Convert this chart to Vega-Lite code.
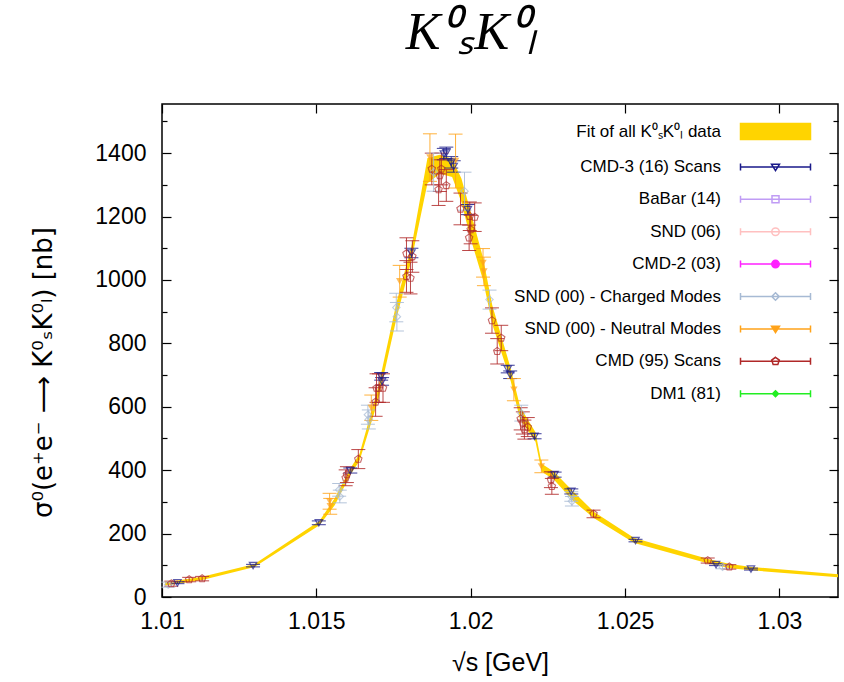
{
  "$schema": "https://vega.github.io/schema/vega-lite/v6.json",
  "width": 676,
  "height": 493,
  "autosize": {"type": "none"},
  "padding": {"left": 162, "top": 104, "right": 6, "bottom": 85},
  "background": "white",
  "config": {
    "view": {"stroke": "black", "strokeWidth": 1.5},
    "font": "Liberation Sans",
    "axis": {"grid": false, "domain": false, "labelFlush": false, "tickColor": "black", "tickWidth": 1.2, "labelColor": "black", "titleColor": "black", "labelFont": "Liberation Sans", "titleFont": "Liberation Sans", "labelFontSize": 23, "titleFontSize": 24, "titleFontWeight": "normal"},
    "legend": {"labelFont": "Liberation Sans", "labelFontSize": 17, "labelColor": "black", "labelLimit": 400}
  },
  "title": {"text": "K⁰ₛK⁰ₗ", "font": "Liberation Serif", "fontStyle": "italic", "fontWeight": "normal", "fontSize": 52, "color": "black", "anchor": "middle", "frame": "group", "dx": -29, "baseline": "alphabetic", "offset": 2},
  "datasets": {
    "fit": [
      {"x": 1.0101, "lo": 36, "hi": 48},
      {"x": 1.0105, "lo": 42, "hi": 52},
      {"x": 1.0113, "lo": 54, "hi": 64},
      {"x": 1.0130, "lo": 95, "hi": 104},
      {"x": 1.0151, "lo": 226, "hi": 240},
      {"x": 1.0156, "lo": 290, "hi": 312},
      {"x": 1.0161, "lo": 385, "hi": 405},
      {"x": 1.0164, "lo": 430, "hi": 452},
      {"x": 1.0170, "lo": 620, "hi": 660},
      {"x": 1.0176, "lo": 880, "hi": 930},
      {"x": 1.0181, "lo": 1070, "hi": 1115},
      {"x": 1.0186, "lo": 1305, "hi": 1385},
      {"x": 1.0190, "lo": 1335, "hi": 1395},
      {"x": 1.0194, "lo": 1325, "hi": 1382},
      {"x": 1.0197, "lo": 1245, "hi": 1320},
      {"x": 1.0200, "lo": 1130, "hi": 1215},
      {"x": 1.0204, "lo": 1000, "hi": 1070},
      {"x": 1.0207, "lo": 860, "hi": 920},
      {"x": 1.0213, "lo": 680, "hi": 720},
      {"x": 1.0216, "lo": 560, "hi": 600},
      {"x": 1.0221, "lo": 490, "hi": 520},
      {"x": 1.0223, "lo": 395, "hi": 420},
      {"x": 1.0227, "lo": 370, "hi": 395},
      {"x": 1.0233, "lo": 305, "hi": 335},
      {"x": 1.0240, "lo": 248, "hi": 268},
      {"x": 1.0253, "lo": 170, "hi": 186},
      {"x": 1.0277, "lo": 106, "hi": 120},
      {"x": 1.0284, "lo": 91, "hi": 104},
      {"x": 1.0291, "lo": 84, "hi": 95},
      {"x": 1.0319, "lo": 62, "hi": 72}
    ],
    "points": [
      {"dataset": "CMD-3 (16) Scans", "x": 1.0105, "y": 45, "err": 3},
      {"dataset": "CMD-3 (16) Scans", "x": 1.01295, "y": 99, "err": 4},
      {"dataset": "CMD-3 (16) Scans", "x": 1.01508, "y": 234, "err": 6},
      {"dataset": "CMD-3 (16) Scans", "x": 1.0161, "y": 399, "err": 8},
      {"dataset": "CMD-3 (16) Scans", "x": 1.0171, "y": 696, "err": 12},
      {"dataset": "CMD-3 (16) Scans", "x": 1.01713, "y": 680, "err": 12},
      {"dataset": "CMD-3 (16) Scans", "x": 1.01808, "y": 1085, "err": 15},
      {"dataset": "CMD-3 (16) Scans", "x": 1.01913, "y": 1397, "err": 18},
      {"dataset": "CMD-3 (16) Scans", "x": 1.01921, "y": 1401, "err": 18},
      {"dataset": "CMD-3 (16) Scans", "x": 1.01937, "y": 1371, "err": 18},
      {"dataset": "CMD-3 (16) Scans", "x": 1.01945, "y": 1358, "err": 18},
      {"dataset": "CMD-3 (16) Scans", "x": 1.01991, "y": 1222, "err": 16},
      {"dataset": "CMD-3 (16) Scans", "x": 1.0212, "y": 719, "err": 12},
      {"dataset": "CMD-3 (16) Scans", "x": 1.02128, "y": 701, "err": 12},
      {"dataset": "CMD-3 (16) Scans", "x": 1.02207, "y": 507, "err": 8},
      {"dataset": "CMD-3 (16) Scans", "x": 1.02272, "y": 386, "err": 8},
      {"dataset": "CMD-3 (16) Scans", "x": 1.02326, "y": 333, "err": 8},
      {"dataset": "CMD-3 (16) Scans", "x": 1.02534, "y": 178, "err": 4},
      {"dataset": "CMD-3 (16) Scans", "x": 1.02795, "y": 102, "err": 3},
      {"dataset": "CMD-3 (16) Scans", "x": 1.02908, "y": 88, "err": 3},
      {"dataset": "CMD (95) Scans", "x": 1.0103, "y": 42, "err": 8},
      {"dataset": "CMD (95) Scans", "x": 1.01088, "y": 55, "err": 7},
      {"dataset": "CMD (95) Scans", "x": 1.0113, "y": 58, "err": 7},
      {"dataset": "CMD (95) Scans", "x": 1.01595, "y": 376, "err": 25},
      {"dataset": "CMD (95) Scans", "x": 1.01599, "y": 386, "err": 25},
      {"dataset": "CMD (95) Scans", "x": 1.01636, "y": 435, "err": 30},
      {"dataset": "CMD (95) Scans", "x": 1.01692, "y": 615, "err": 45},
      {"dataset": "CMD (95) Scans", "x": 1.01695, "y": 659, "err": 45},
      {"dataset": "CMD (95) Scans", "x": 1.01703, "y": 659, "err": 45},
      {"dataset": "CMD (95) Scans", "x": 1.01716, "y": 659, "err": 45},
      {"dataset": "CMD (95) Scans", "x": 1.01792, "y": 1011, "err": 50},
      {"dataset": "CMD (95) Scans", "x": 1.01805, "y": 1006, "err": 50},
      {"dataset": "CMD (95) Scans", "x": 1.01792, "y": 1083, "err": 50},
      {"dataset": "CMD (95) Scans", "x": 1.01811, "y": 1074, "err": 50},
      {"dataset": "CMD (95) Scans", "x": 1.01874, "y": 1350, "err": 50},
      {"dataset": "CMD (95) Scans", "x": 1.01905, "y": 1350, "err": 50},
      {"dataset": "CMD (95) Scans", "x": 1.019, "y": 1329, "err": 50},
      {"dataset": "CMD (95) Scans", "x": 1.01896, "y": 1285, "err": 50},
      {"dataset": "CMD (95) Scans", "x": 1.01921, "y": 1298, "err": 50},
      {"dataset": "CMD (95) Scans", "x": 1.01967, "y": 1224, "err": 50},
      {"dataset": "CMD (95) Scans", "x": 1.01997, "y": 1201, "err": 45},
      {"dataset": "CMD (95) Scans", "x": 1.02013, "y": 1198, "err": 45},
      {"dataset": "CMD (95) Scans", "x": 1.02, "y": 1159, "err": 45},
      {"dataset": "CMD (95) Scans", "x": 1.01995, "y": 1133, "err": 40},
      {"dataset": "CMD (95) Scans", "x": 1.02069, "y": 872, "err": 40},
      {"dataset": "CMD (95) Scans", "x": 1.02099, "y": 817, "err": 40},
      {"dataset": "CMD (95) Scans", "x": 1.02086, "y": 775, "err": 40},
      {"dataset": "CMD (95) Scans", "x": 1.02162, "y": 562, "err": 35},
      {"dataset": "CMD (95) Scans", "x": 1.02169, "y": 549, "err": 35},
      {"dataset": "CMD (95) Scans", "x": 1.02185, "y": 536, "err": 30},
      {"dataset": "CMD (95) Scans", "x": 1.02174, "y": 528, "err": 30},
      {"dataset": "CMD (95) Scans", "x": 1.0226, "y": 370, "err": 25},
      {"dataset": "CMD (95) Scans", "x": 1.02263, "y": 349, "err": 25},
      {"dataset": "CMD (95) Scans", "x": 1.02398, "y": 262, "err": 12},
      {"dataset": "CMD (95) Scans", "x": 1.02768, "y": 115, "err": 8},
      {"dataset": "CMD (95) Scans", "x": 1.02838, "y": 95, "err": 7},
      {"dataset": "SND (00) - Charged Modes", "x": 1.0102, "y": 39, "err": 8},
      {"dataset": "SND (00) - Charged Modes", "x": 1.01574, "y": 338, "err": 20},
      {"dataset": "SND (00) - Charged Modes", "x": 1.01576, "y": 317, "err": 20},
      {"dataset": "SND (00) - Charged Modes", "x": 1.01667, "y": 575, "err": 30},
      {"dataset": "SND (00) - Charged Modes", "x": 1.0167, "y": 560, "err": 30},
      {"dataset": "SND (00) - Charged Modes", "x": 1.01759, "y": 913, "err": 45},
      {"dataset": "SND (00) - Charged Modes", "x": 1.01761, "y": 884, "err": 45},
      {"dataset": "SND (00) - Charged Modes", "x": 1.0188, "y": 1340, "err": 60},
      {"dataset": "SND (00) - Charged Modes", "x": 1.0198, "y": 1280, "err": 60},
      {"dataset": "SND (00) - Charged Modes", "x": 1.02061, "y": 938, "err": 30},
      {"dataset": "SND (00) - Charged Modes", "x": 1.02164, "y": 580, "err": 25},
      {"dataset": "SND (00) - Charged Modes", "x": 1.02326, "y": 317, "err": 15},
      {"dataset": "SND (00) - Charged Modes", "x": 1.02328, "y": 302, "err": 15},
      {"dataset": "SND (00) - Charged Modes", "x": 1.02816, "y": 95, "err": 6},
      {"dataset": "SND (00) - Neutral Modes", "x": 1.01543, "y": 302, "err": 25},
      {"dataset": "SND (00) - Neutral Modes", "x": 1.01545, "y": 286, "err": 25},
      {"dataset": "SND (00) - Neutral Modes", "x": 1.01678, "y": 597, "err": 40},
      {"dataset": "SND (00) - Neutral Modes", "x": 1.0177, "y": 996, "err": 50},
      {"dataset": "SND (00) - Neutral Modes", "x": 1.01868, "y": 1386, "err": 75},
      {"dataset": "SND (00) - Neutral Modes", "x": 1.01951, "y": 1375, "err": 85},
      {"dataset": "SND (00) - Neutral Modes", "x": 1.0204, "y": 1054, "err": 45},
      {"dataset": "SND (00) - Neutral Modes", "x": 1.02043, "y": 1027, "err": 45},
      {"dataset": "SND (00) - Neutral Modes", "x": 1.0214, "y": 654, "err": 35},
      {"dataset": "SND (00) - Neutral Modes", "x": 1.02229, "y": 412, "err": 20}
    ]
  },
  "resolve": {"axis": {"x": "independent", "y": "independent"}},
  "layer": [
    {
      "data": {"name": "fit"},
      "mark": {"type": "area", "color": "#ffd400", "opacity": 1},
      "encoding": {
        "x": {"field": "x", "type": "quantitative", "scale": {"domain": [1.01, 1.0319], "nice": false, "zero": false},
              "axis": {"orient": "bottom", "values": [1.01, 1.015, 1.02, 1.025, 1.03], "format": ".3~f", "tickSize": -9, "labelPadding": 22, "title": "√s [GeV]", "titleFontSize": 25, "titleY": 53, "titleBaseline": "top"}},
        "y": {"field": "lo", "type": "quantitative", "scale": {"domain": [0, 1555], "nice": false, "zero": false},
              "axis": {"orient": "left", "values": [0, 200, 400, 600, 800, 1000, 1200, 1400], "format": "d", "tickSize": -9, "labelPadding": 25, "title": "σ⁰(e⁺e⁻ ⟶ K⁰ₛK⁰ₗ) [nb]", "titleFont": "DejaVu Sans", "titleFontSize": 26, "titleX": -106, "titleY": 268, "titleAngle": -90, "titleBaseline": "bottom"}},
        "y2": {"field": "hi"}
      }
    },
    {
      "data": {"name": "points"},
      "mark": {"type": "errorbar", "ticks": {"size": 14}, "opacity": 0.85},
      "encoding": {
        "x": {"field": "x", "type": "quantitative", "axis": {"orient": "top", "values": [1.01, 1.015, 1.02, 1.025, 1.03], "labels": false, "tickSize": -9, "title": null}},
        "y": {"field": "y", "type": "quantitative", "axis": {"orient": "right", "values": [0, 200, 400, 600, 800, 1000, 1200, 1400], "labels": false, "tickSize": -9, "title": null}},
        "yError": {"field": "err"},
        "color": {"field": "dataset", "type": "nominal", "legend": null,
                  "scale": {"domain": ["CMD-3 (16) Scans", "BaBar (14)", "SND (06)", "CMD-2 (03)", "SND (00) - Charged Modes", "SND (00) - Neutral Modes", "CMD (95) Scans", "DM1 (81)"],
                            "range": ["#1a1a8a", "#c09cf5", "#ffc0c0", "#ff22ff", "#a7bad4", "#ffa31a", "#b02828", "#22ee22"]}}
      }
    },
    {
      "data": {"name": "points"},
      "transform": [{"filter": {"field": "dataset", "equal": "SND (00) - Charged Modes"}}],
      "mark": {"type": "point", "shape": "diamond", "filled": false, "size": 55, "strokeWidth": 1.1},
      "encoding": {
        "x": {"field": "x", "type": "quantitative", "axis": null},
        "y": {"field": "y", "type": "quantitative", "axis": {"orient": "left", "values": [100, 300, 500, 700, 900, 1100, 1300, 1500], "labels": false, "tickSize": -5, "title": null}},
        "color": {"field": "dataset", "type": "nominal", "legend": null}
      }
    },
    {
      "data": {"name": "points"},
      "transform": [{"filter": {"field": "dataset", "equal": "SND (00) - Neutral Modes"}}],
      "mark": {"type": "point", "shape": "triangle-down", "filled": true, "size": 55},
      "encoding": {
        "x": {"field": "x", "type": "quantitative", "axis": null},
        "y": {"field": "y", "type": "quantitative", "axis": {"orient": "right", "values": [100, 300, 500, 700, 900, 1100, 1300, 1500], "labels": false, "tickSize": -5, "title": null}},
        "color": {"field": "dataset", "type": "nominal", "legend": null}
      }
    },
    {
      "data": {"name": "points"},
      "transform": [{"filter": {"field": "dataset", "equal": "CMD (95) Scans"}}],
      "mark": {"type": "point", "shape": "M0,-1L0.95,-0.31L0.59,0.81L-0.59,0.81L-0.95,-0.31Z", "filled": false, "size": 60, "strokeWidth": 1.1},
      "encoding": {
        "x": {"field": "x", "type": "quantitative", "axis": null},
        "y": {"field": "y", "type": "quantitative", "axis": null},
        "color": {"field": "dataset", "type": "nominal", "legend": null}
      }
    },
    {
      "data": {"name": "points"},
      "transform": [{"filter": {"field": "dataset", "equal": "CMD-3 (16) Scans"}}],
      "mark": {"type": "point", "shape": "triangle-down", "filled": false, "size": 55, "strokeWidth": 1.2},
      "encoding": {
        "x": {"field": "x", "type": "quantitative", "axis": null},
        "y": {"field": "y", "type": "quantitative", "axis": null},
        "color": {"field": "dataset", "type": "nominal", "legend": null}
      }
    },
    {
      "data": {"name": "points"},
      "transform": [{"filter": "datum.y < 0"}],
      "mark": {"type": "point", "strokeWidth": 1.2, "opacity": 1},
      "encoding": {
        "x": {"field": "x", "type": "quantitative", "axis": null},
        "y": {"field": "y", "type": "quantitative", "axis": null},
        "stroke": {"field": "dataset", "type": "nominal",
                  "scale": {"domain": ["Fit of all K⁰ₛK⁰ₗ data", "CMD-3 (16) Scans", "BaBar (14)", "SND (06)", "CMD-2 (03)", "SND (00) - Charged Modes", "SND (00) - Neutral Modes", "CMD (95) Scans", "DM1 (81)"],
                            "range": ["#ffd400", "#1a1a8a", "#c09cf5", "#ffc0c0", "#ff22ff", "#a7bad4", "#ffa31a", "#b02828", "#22ee22"]},
                  "legend": {"title": null, "orient": "none", "legendX": 605, "legendY": 19, "rowPadding": 14.4, "labelAlign": "right", "labelOffset": -63, "symbolSize": 100}},
        "fill": {"field": "dataset", "type": "nominal",
                  "scale": {"domain": ["Fit of all K⁰ₛK⁰ₗ data", "CMD-3 (16) Scans", "BaBar (14)", "SND (06)", "CMD-2 (03)", "SND (00) - Charged Modes", "SND (00) - Neutral Modes", "CMD (95) Scans", "DM1 (81)"],
                            "range": ["#ffd400", "transparent", "transparent", "transparent", "#ff22ff", "transparent", "#ffa31a", "transparent", "#22ee22"]},
                  "legend": {"title": null}},
        "shape": {"field": "dataset", "type": "nominal",
                  "scale": {"domain": ["Fit of all K⁰ₛK⁰ₗ data", "CMD-3 (16) Scans", "BaBar (14)", "SND (06)", "CMD-2 (03)", "SND (00) - Charged Modes", "SND (00) - Neutral Modes", "CMD (95) Scans", "DM1 (81)"],
                            "range": ["M-7,-1.6H7V1.6H-7Z", "M-7,0H7M-7,-0.7V0.7M7,-0.7V0.7M-0.8,-0.55H0.8L0,0.75Z", "M-7,0H7M-7,-0.7V0.7M7,-0.7V0.7M-0.7,-0.7H0.7V0.7H-0.7Z", "M-7,0H7M-7,-0.7V0.7M7,-0.7V0.7M-0.75,0A0.75,0.75,0,1,0,0.75,0A0.75,0.75,0,1,0,-0.75,0Z", "M-7,0H7M-7,-0.7V0.7M7,-0.7V0.7M-0.75,0A0.75,0.75,0,1,0,0.75,0A0.75,0.75,0,1,0,-0.75,0Z", "M-7,0H7M-7,-0.7V0.7M7,-0.7V0.7M0,-0.75L0.75,0L0,0.75L-0.75,0Z", "M-7,0H7M-7,-0.7V0.7M7,-0.7V0.7M-0.8,-0.55H0.8L0,0.75Z", "M-7,0H7M-7,-0.7V0.7M7,-0.7V0.7M0,-0.8L0.76,-0.25L0.47,0.65L-0.47,0.65L-0.76,-0.25Z", "M-7,0H7M-7,-0.7V0.7M7,-0.7V0.7M0,-0.6L0.6,0L0,0.6L-0.6,0Z"]},
                  "legend": {"title": null}}
      }
    }
  ]
}
